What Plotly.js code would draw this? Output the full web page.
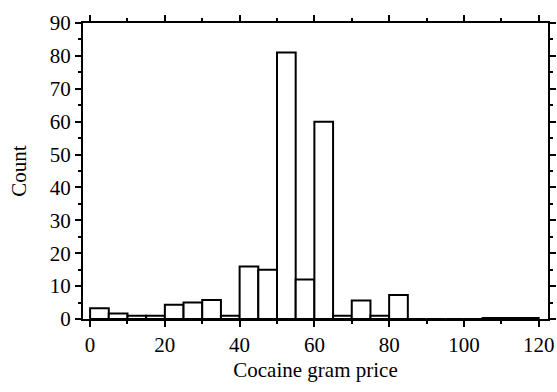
<!DOCTYPE html>
<html>
<head>
<meta charset="utf-8">
<script src="https://cdn.plot.ly/plotly-3.0.1.min.js"></script>
<style>
  html, body { margin: 0; padding: 0; background: #fff; }
  #chart { width: 557px; height: 392px; }
</style>
</head>
<body>
<div id="chart"></div>
<script>
// Histogram of cocaine gram prices, 5-unit bins starting at 0
const binWidth = 5;
const binStarts = [0, 5, 10, 15, 20, 25, 30, 35, 40, 45, 50, 55, 60, 65, 70, 75, 80, 85, 90, 95, 100, 105, 110, 115];
const counts    = [3.3, 1.7, 1, 1, 4.3, 5, 5.8, 1, 16, 15, 81, 12, 60, 1, 5.6, 1, 7.3, 0, 0, 0, 0, 0.3, 0.3, 0.3];
const xTickVals = [0, 20, 40, 60, 80, 100, 120];
const yTickVals = [0, 10, 20, 30, 40, 50, 60, 70, 80, 90];

const serif = "Liberation Serif, Times New Roman, serif";

const trace = {
  type: "bar",
  x: binStarts.map(s => s + binWidth / 2),
  y: counts,
  width: binWidth,
  marker: { color: "#ffffff", line: { color: "#000000", width: 2 } },
  hoverinfo: "x+y"
};

const axisCommon = {
  showgrid: false,
  zeroline: false,
  showline: true,
  linecolor: "#000",
  linewidth: 2,
  mirror: "allticks",
  ticks: "outside",
  tickcolor: "#000",
  tickwidth: 2,
  ticklen: 6,
  tickfont: { family: serif, size: 21, color: "#000" }
};

const layout = {
  width: 557,
  height: 392,
  margin: { l: 83, r: 9, t: 23, b: 73 },
  paper_bgcolor: "#fff",
  plot_bgcolor: "#fff",
  showlegend: false,
  bargap: 0,
  xaxis: Object.assign({}, axisCommon, {
    range: [-1.9, 122.5],
    tickmode: "array",
    tickvals: xTickVals,
    ticktext: xTickVals.map(String),
    minor: { dtick: 10, tick0: 0, ticks: "outside", ticklen: 3, tickwidth: 2, tickcolor: "#000", showgrid: false },
    title: { text: "Cocaine gram price", font: { family: serif, size: 21, color: "#000" }, standoff: 6 }
  }),
  yaxis: Object.assign({}, axisCommon, {
    range: [0, 90],
    tickmode: "array",
    tickvals: yTickVals,
    ticktext: yTickVals.map(String),
    minor: { dtick: 5, tick0: 0, ticks: "outside", ticklen: 3, tickwidth: 2, tickcolor: "#000", showgrid: false },
    title: { text: "Count", font: { family: serif, size: 21, color: "#000" }, standoff: 17 }
  })
};

Plotly.newPlot("chart", [trace], layout, { displayModeBar: false, staticPlot: true });
</script>
</body>
</html>
